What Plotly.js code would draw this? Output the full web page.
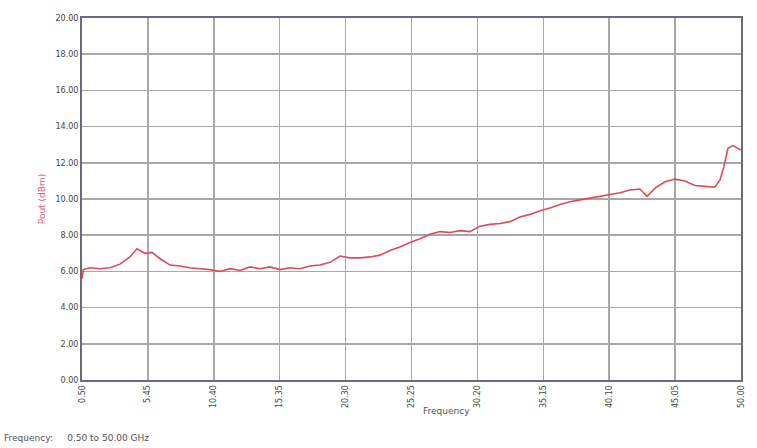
<!DOCTYPE html>
<html>
<head>
<meta charset="utf-8">
<script src="https://cdn.plot.ly/plotly-3.0.1.min.js"></script>
<style>html,body{margin:0;padding:0;background:#fff;}#chart{width:757px;height:448px;}</style>
</head>
<body>
<div id="chart"></div>
<script>
const freqGHz = [0.50,0.60,1.10,1.85,2.60,3.35,4.10,4.63,5.23,5.76,6.36,7.11,7.86,8.61,9.36,10.11,10.87,11.62,12.37,13.12,13.87,14.62,15.37,16.12,16.87,17.63,18.38,19.13,19.88,20.63,21.38,22.13,22.88,23.63,24.38,25.14,25.89,26.64,27.39,28.14,28.89,29.64,30.39,31.14,31.90,32.65,33.40,34.15,34.90,35.65,36.40,37.15,37.91,38.66,39.41,40.16,40.91,41.66,42.41,42.94,43.54,44.29,45.04,45.79,46.54,47.29,48.04,48.42,48.72,49.02,49.40,49.77,50.00];
const valueDB = [5.6,6.1,6.2,6.15,6.2,6.4,6.8,7.25,7.0,7.05,6.7,6.35,6.3,6.2,6.15,6.1,6.0,6.15,6.05,6.25,6.15,6.25,6.1,6.2,6.15,6.3,6.35,6.5,6.85,6.75,6.75,6.8,6.9,7.15,7.35,7.6,7.8,8.05,8.2,8.15,8.25,8.2,8.5,8.6,8.65,8.75,9.0,9.15,9.35,9.5,9.7,9.85,9.95,10.05,10.15,10.25,10.35,10.5,10.55,10.15,10.6,10.95,11.1,11.0,10.75,10.7,10.65,11.05,11.8,12.8,12.95,12.8,12.7];
const xTicks = [0.50,5.45,10.40,15.35,20.30,25.25,30.20,35.15,40.10,45.05,50.00];
const yTicks = [0,2,4,6,8,10,12,14,16,18,20];
const yTickText = yTicks.map(v => v.toFixed(2));
const xTickText = xTicks.map(v => v.toFixed(2));

const trace = {
  x: freqGHz, y: valueDB, type: 'scatter', mode: 'lines',
  line: {color: '#e04a55', width: 1.6}, hoverinfo: 'skip'
};

const layout = {
  width: 757, height: 448,
  margin: {l: 82, r: 16, t: 18, b: 68},
  paper_bgcolor: '#ffffff', plot_bgcolor: '#ffffff',
  showlegend: false,
  font: {family: 'DejaVu Sans, sans-serif', color: '#555'},
  xaxis: {
    range: [0.5, 50], tickmode: 'array', tickvals: xTicks, ticktext: xTickText,
    tickangle: -90, tickfont: {size: 8, color: '#444'},
    showgrid: true, gridcolor: '#a8a8a8', gridwidth: 1.5,
    showline: true, linecolor: '#6a6a7a', linewidth: 2, mirror: true,
    zeroline: false, ticks: '', ticklen: 0
  },
  yaxis: {
    range: [0, 20], tickmode: 'array', tickvals: yTicks, ticktext: yTickText,
    tickfont: {size: 8, color: '#444'},
    showgrid: true, gridcolor: '#a8a8a8', gridwidth: 1.5,
    showline: true, linecolor: '#6a6a7a', linewidth: 2, mirror: true,
    zeroline: false, ticks: '',
    title: {text: 'Pout (dBm)', font: {size: 9, color: '#e0607a'}, standoff: 8}
  },
  shapes: [{type: 'line', xref: 'paper', x0: 0, x1: 1, yref: 'y', y0: 10, y1: 10,
    line: {color: '#7a7a86', width: 2}, layer: 'below'}],
  annotations: [{
    xref: 'paper', yref: 'paper', x: 0.553, y: -0.085, xanchor: 'center', yanchor: 'middle',
    text: 'Frequency', showarrow: false, font: {size: 9, color: '#555'}
  }, {
    xref: 'paper', yref: 'paper', x: -0.122, y: -0.16, xanchor: 'left', yanchor: 'middle',
    text: 'Frequency:&nbsp;&nbsp;&nbsp;&nbsp;&nbsp;0.50 to 50.00 GHz', showarrow: false,
    font: {size: 9, color: '#555'}
  }]
};

Plotly.newPlot('chart', [trace], layout, {staticPlot: true, displayModeBar: false});
</script>
</body>
</html>
